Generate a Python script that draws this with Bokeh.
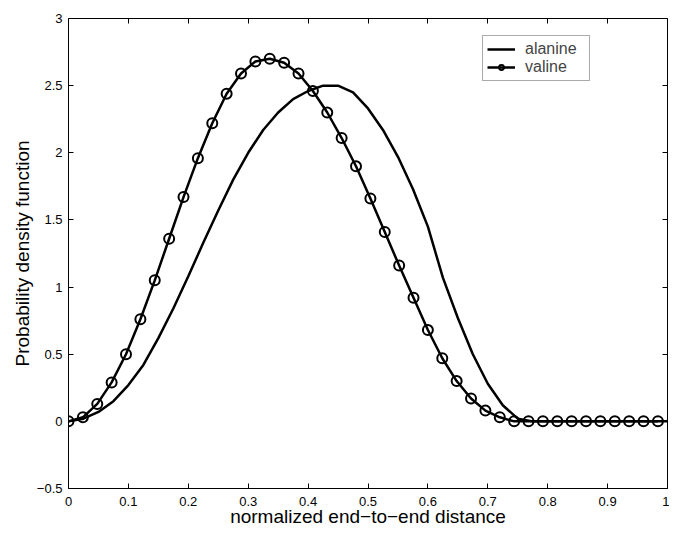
from bokeh.plotting import figure
from bokeh.models import (LinearAxis, FixedTicker, Range1d, Legend, LegendItem)
from bokeh.embed import file_html
from bokeh.resources import INLINE

# ---- data ----
valine_x = [i * 0.024 for i in range(42)]
valine_y = [0.0, 0.03, 0.13, 0.29, 0.50, 0.76, 1.05, 1.36, 1.67, 1.96,
            2.22, 2.44, 2.59, 2.68, 2.70, 2.67, 2.59, 2.46, 2.30, 2.11,
            1.90, 1.66, 1.41, 1.16, 0.92, 0.68, 0.47, 0.30, 0.17, 0.08,
            0.03, 0.0, 0.0, 0.0, 0.0, 0.0, 0.0, 0.0, 0.0, 0.0, 0.0, 0.0]

alanine_x = [i * 0.025 for i in range(41)]
alanine_y = [0.0, 0.02, 0.07, 0.15, 0.27, 0.42, 0.62, 0.84, 1.08, 1.33,
             1.57, 1.80, 2.00, 2.17, 2.30, 2.40, 2.46, 2.50, 2.50, 2.45,
             2.33, 2.17, 1.97, 1.73, 1.45, 1.07, 0.77, 0.50, 0.28, 0.12,
             0.02, 0.0, 0.0, 0.0, 0.0, 0.0, 0.0, 0.0, 0.0, 0.0, 0.0]

x_ticks = [0, 0.1, 0.2, 0.3, 0.4, 0.5, 0.6, 0.7, 0.8, 0.9, 1]
x_tick_labels = ["0", "0.1", "0.2", "0.3", "0.4", "0.5", "0.6", "0.7", "0.8", "0.9", "1"]
y_ticks = [-0.5, 0, 0.5, 1, 1.5, 2, 2.5, 3]
y_tick_labels = ["\u22120.5", "0", "0.5", "1", "1.5", "2", "2.5", "3"]

x_label = "normalized end\u2212to\u2212end distance"
y_label = "Probability density function"

FONT = "Liberation Sans"

x_min, x_max = 0, 1
y_min, y_max = -0.5, 3

p = figure(width=669, height=529, output_backend="svg", toolbar_location=None,
           x_range=Range1d(x_min, x_max), y_range=Range1d(y_min, y_max),
           x_axis_location=None, y_axis_location=None,
           min_border_left=68, min_border_right=2, min_border_top=18, min_border_bottom=38)
p.grid.visible = False
p.outline_line_color = None
p.background_fill_color = "white"
p.border_fill_color = "white"


def style_axis(ax, ticks, labels, show_labels):
    ax.ticker = FixedTicker(ticks=ticks)
    ax.major_label_overrides = {t: l for t, l in zip(ticks, labels)}
    ax.major_tick_in = 5
    ax.major_tick_out = 0
    ax.minor_tick_line_color = None
    ax.axis_line_color = "black"
    ax.axis_line_width = 1
    ax.major_tick_line_color = "black"
    ax.major_label_text_font = FONT
    ax.major_label_text_font_size = "13px" if show_labels else "0px"
    ax.major_label_text_line_height = 1.0
    ax.major_label_text_color = "black" if show_labels else None
    if not show_labels:
        ax.major_label_standoff = 0
    ax.axis_label_text_font = FONT
    ax.axis_label_text_font_size = "19px"
    ax.axis_label_text_line_height = 1.0
    ax.axis_label_text_font_style = "normal"
    ax.axis_label_text_color = "black"


xb = LinearAxis(axis_label=x_label)
style_axis(xb, x_ticks, x_tick_labels, True)
xb.major_label_standoff = 8
xb.axis_label_standoff = -3
p.add_layout(xb, "below")

yl = LinearAxis(axis_label=y_label)
style_axis(yl, y_ticks, y_tick_labels, True)
yl.major_label_standoff = 6
yl.axis_label_standoff = 1
p.add_layout(yl, "left")

xt = LinearAxis()
style_axis(xt, x_ticks, x_tick_labels, False)
p.add_layout(xt, "above")

yr = LinearAxis()
style_axis(yr, y_ticks, y_tick_labels, False)
p.add_layout(yr, "right")

r_ala = p.line(alanine_x, alanine_y, line_color="black", line_width=2.5)
r_val = p.line(valine_x, valine_y, line_color="black", line_width=2.5)
r_valm = p.scatter(valine_x, valine_y, marker="circle", size=10,
                   fill_alpha=0, line_color="black", line_width=2)

legend = Legend(items=[LegendItem(label="alanine", renderers=[r_ala]),
                       LegendItem(label="valine", renderers=[r_val, r_valm])],
                location=(414, 407), margin=0, padding=4, spacing=0,
                label_height=12, glyph_height=12, glyph_width=28,
                label_standoff=10, label_width=60,
                label_text_font=FONT, label_text_font_size="16px",
                border_line_color="#555555", border_line_width=1,
                background_fill_alpha=1)
p.add_layout(legend, "center")

open("out.html", "w").write(file_html(p, INLINE))
